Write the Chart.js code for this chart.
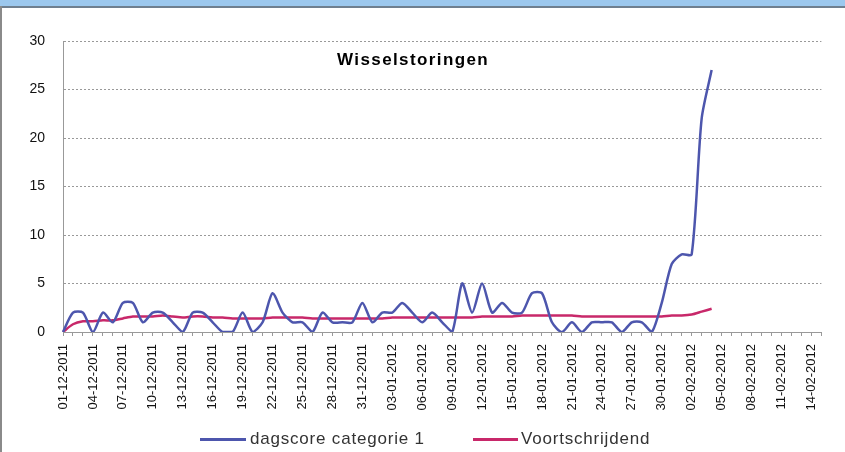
<!DOCTYPE html>
<html>
<head>
<meta charset="utf-8">
<script src="https://cdn.jsdelivr.net/npm/chart.js@4.4.1/dist/chart.umd.min.js"></script>
<style>
  body { margin: 0; background: #fff; }
  #wrap { position: relative; width: 845px; height: 452px; overflow: hidden; }
  #band { position: absolute; left: 0; top: 0; width: 845px; height: 6px; background: #9cc8ee; border-bottom: 2px solid #6f7f8f; }
  #edge { position: absolute; left: 0; top: 6px; width: 2px; height: 446px; background: #8a8a8a; }
  #title { position: absolute; left: 337px; top: 50px; font: bold 17px "Liberation Sans", Arial, sans-serif; letter-spacing: 1.4px; color: #000; }
  .leg { position: absolute; top: 429px; font: 17px "Liberation Sans", Arial, sans-serif; letter-spacing: 0.8px; color: #333; line-height: 20px; }
  .sw { position: absolute; top: 438px; height: 3px; }
</style>
</head>
<body>
<div id="wrap">
  <canvas id="myChart" width="845" height="452"></canvas>
  <div id="band"></div>
  <div id="edge"></div>
  <div id="title">Wisselstoringen</div>
  <div class="sw" style="left:200px;width:46px;background:#4d56ad"></div>
  <div class="leg" style="left:250px">dagscore categorie 1</div>
  <div class="sw" style="left:473px;width:45px;background:#c8286a"></div>
  <div class="leg" style="left:521px">Voortschrijdend</div>
</div>
<script>
// dagen 01-12-2011 t/m 15-02-2012
const dagen = [
  '01-12-2011','02-12-2011','03-12-2011','04-12-2011','05-12-2011','06-12-2011','07-12-2011','08-12-2011','09-12-2011','10-12-2011',
  '11-12-2011','12-12-2011','13-12-2011','14-12-2011','15-12-2011','16-12-2011','17-12-2011','18-12-2011','19-12-2011','20-12-2011',
  '21-12-2011','22-12-2011','23-12-2011','24-12-2011','25-12-2011','26-12-2011','27-12-2011','28-12-2011','29-12-2011','30-12-2011',
  '31-12-2011','01-01-2012','02-01-2012','03-01-2012','04-01-2012','05-01-2012','06-01-2012','07-01-2012','08-01-2012','09-01-2012',
  '10-01-2012','11-01-2012','12-01-2012','13-01-2012','14-01-2012','15-01-2012','16-01-2012','17-01-2012','18-01-2012','19-01-2012',
  '20-01-2012','21-01-2012','22-01-2012','23-01-2012','24-01-2012','25-01-2012','26-01-2012','27-01-2012','28-01-2012','29-01-2012',
  '30-01-2012','31-01-2012','01-02-2012','02-02-2012','03-02-2012','04-02-2012','05-02-2012','06-02-2012','07-02-2012','08-02-2012',
  '09-02-2012','10-02-2012','11-02-2012','12-02-2012','13-02-2012','14-02-2012','15-02-2012'
]

const dagscore = [
  0, 2, 2, 0, 2, 1, 3, 3, 1, 2,
  2, 1, 0, 2, 2, 1, 0, 0, 2, 0,
  1, 4, 2, 1, 1, 0, 2, 1, 1, 1,
  3, 1, 2, 2, 3, 2, 1, 2, 1, 0,
  5, 2, 5, 2, 3, 2, 2, 4, 4, 1,
  0, 1, 0, 1, 1, 1, 0, 1, 1, 0,
  3, 7, 8, 8, 22, 27
]

const voortschrijdend = [
  0, 0.8, 1.1, 1.1, 1.2, 1.2, 1.4, 1.6, 1.6, 1.6,
  1.7, 1.6, 1.5, 1.6, 1.6, 1.5, 1.5, 1.4, 1.4, 1.4,
  1.4, 1.5, 1.5, 1.5, 1.5, 1.4, 1.4, 1.4, 1.4, 1.4,
  1.4, 1.4, 1.4, 1.5, 1.5, 1.5, 1.5, 1.5, 1.5, 1.5,
  1.5, 1.5, 1.6, 1.6, 1.6, 1.6, 1.7, 1.7, 1.7, 1.7,
  1.7, 1.7, 1.6, 1.6, 1.6, 1.6, 1.6, 1.6, 1.6, 1.6,
  1.6, 1.7, 1.7, 1.8, 2.1, 2.4
]

const yTicks = [0, 5, 10, 15, 20, 25, 30]

const ctx = document.getElementById('myChart');
new Chart(ctx, {
  type: 'line',
  data: {
    labels: dagen,
    datasets: [{
      label: 'dagscore categorie 1',
      data: dagscore,
      borderColor: '#4d56ad',
      borderWidth: 2.5,
      pointRadius: 0,
      tension: 0.25
    }, {
      label: 'Voortschrijdend',
      data: voortschrijdend,
      borderColor: '#c8286a',
      borderWidth: 2.5,
      pointRadius: 0,
      tension: 0.25
    }]
  },
  options: {
    responsive: false,
    animation: false,
    layout: { padding: { top: 41, right: 20, left: 0, bottom: 0 } },
    plugins: {
      title: { display: false },
      tooltip: { enabled: false },
      legend: { display: false }  // legenda staat als html onder de grafiek
    },
    scales: {
      x: {
        offset: false,
        grid: { display: true, drawOnChartArea: false, color: '#999', tickLength: 4 },
        border: { color: '#999' },
        ticks: {
          autoSkip: false,
          maxRotation: 90,
          minRotation: 90,
          color: '#111',
          padding: 8,
          font: { family: 'Liberation Sans', size: 13 },
          callback: function (v, i) { return i % 3 === 0 ? this.getLabelForValue(v) : '' }
        },
        afterFit: function (s) { s.height = 120 }
      },
      y: {
        min: 0,
        max: 30,
        afterBuildTicks: function (s) { s.ticks = yTicks.map(v => ({ value: v })) },
        grid: { color: '#999', lineWidth: 1, tickLength: 0 },
        border: { color: '#999', dash: [2, 2] },
        ticks: {
          color: '#111',
          padding: 18,
          font: { family: 'Liberation Sans', size: 14 }
        },
        afterFit: function (s) { s.width = 63 }
      }
    }
  }
});
</script>
</body>
</html>
